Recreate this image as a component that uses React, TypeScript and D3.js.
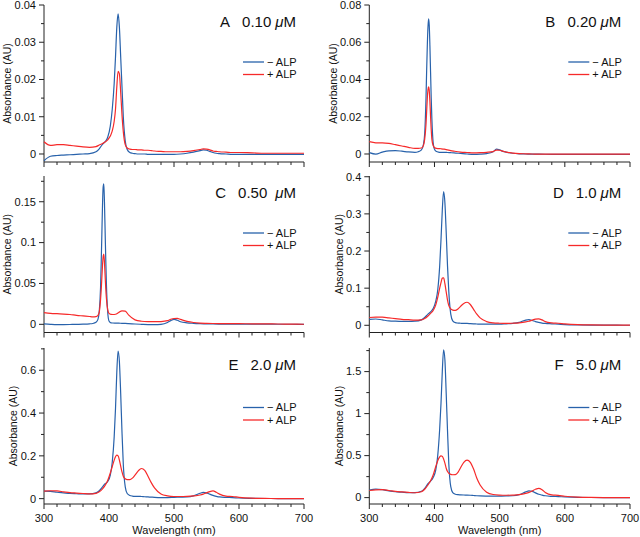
import React from 'react';
import * as d3 from 'd3';

// Wavelength grids (nm)
const wlSoret414 = [300,310,320,330,340,350,360,370,380,385,390,394,398,402,405,408,410,412,414,416,418,420,422,425,428,432,436,440,445,450,455,460,465,470,480,490,500,510,520,530,540,545,550,555,560,565,570,580,590,600,620,640,660,680,700];
const wlSoret391 = [300,310,320,330,340,350,360,370,375,380,383,385,387,388,389,390,391,392,393,394,395,396,398,400,403,406,410,415,420,425,430,440,450,460,470,480,490,495,500,505,510,520,530,540,550,560,580,600,620,640,660,680,700];

// Panel A (0.10 uM)
const minusA = [-0.0018,-0.0006,-0.0004,-0.0003,-0.0002,-0.0001,0,0.0001,0.0006,0.0014,0.0026,0.0033,0.0045,0.0075,0.012,0.019,0.026,0.034,0.0376,0.034,0.026,0.018,0.010,0.0035,0.0012,0.0004,0.0002,0.0001,0,0,0,-0.0001,-0.0001,-0.0001,-0.0001,-0.0001,-0.0001,0,0.0002,0.0005,0.0009,0.0011,0.001,0.0007,0.0004,0.0002,0.0001,0,-0.0001,-0.0001,-0.0001,-0.0001,-0.0001,-0.0001,-0.0001];
const plusA = [0.0033,0.0023,0.0025,0.0025,0.0023,0.0021,0.0019,0.0018,0.002,0.0024,0.0028,0.0032,0.0038,0.0048,0.0062,0.0088,0.012,0.018,0.0222,0.0215,0.0165,0.0105,0.006,0.0025,0.0016,0.0013,0.0012,0.0012,0.0011,0.0011,0.001,0.001,0.0009,0.0008,0.0007,0.0006,0.0006,0.0006,0.0007,0.0009,0.0012,0.0014,0.0013,0.0011,0.0008,0.0007,0.0006,0.0005,0.0004,0.0004,0.0003,0.0002,0.0002,0.0002,0.0002];

// Panel B (0.20 uM)
const minusB = [0.0007,-0.0001,0.001,0.0017,0.0018,0.0015,0.0011,0.0009,0.0012,0.0022,0.005,0.011,0.03,0.045,0.058,0.068,0.0725,0.069,0.058,0.044,0.03,0.019,0.006,0.0025,0.0013,0.001,0.0009,0.0009,0.0008,0.0007,0.0006,0.0003,0,-0.0002,-0.0001,0.0002,0.0012,0.0026,0.0022,0.0014,0.001,0.0004,0.0001,0,-0.0001,-0.0001,-0.0002,-0.0002,-0.0002,-0.0002,-0.0002,-0.0002,-0.0002];
const plusB = [0.0066,0.006,0.006,0.0057,0.005,0.0043,0.0036,0.003,0.003,0.0032,0.0045,0.008,0.016,0.023,0.03,0.0345,0.036,0.034,0.028,0.02,0.013,0.008,0.0045,0.0035,0.003,0.0029,0.0028,0.0026,0.0022,0.0018,0.0015,0.001,0.0008,0.0006,0.0007,0.0009,0.0013,0.0021,0.002,0.0015,0.001,0.0005,0.0002,0.0001,0,-0.0001,-0.0001,-0.0001,-0.0001,-0.0001,-0.0001,-0.0001,-0.0001];

// Panel C (0.50 uM)
const minusC = [0.0005,0,-0.0003,-0.0003,-0.0002,0,0.0002,0.0006,0.001,0.0025,0.006,0.016,0.045,0.075,0.11,0.145,0.168,0.172,0.15,0.115,0.08,0.05,0.015,0.004,0.0018,0.0016,0.0015,0.0014,0.0012,0.0011,0.0009,0.0004,0,-0.0003,-0.0003,0,0.0022,0.0045,0.006,0.005,0.0032,0.0018,0.0012,0.0008,0.0005,0.0004,0.0003,0.0003,0.0002,0.0002,0.0001,0.0001,0];
const plusC = [0.0143,0.0135,0.013,0.0126,0.012,0.011,0.0103,0.0096,0.0092,0.0095,0.011,0.015,0.03,0.042,0.057,0.072,0.083,0.086,0.076,0.06,0.044,0.032,0.018,0.0135,0.0122,0.012,0.0123,0.0145,0.0165,0.0162,0.0115,0.0055,0.0038,0.0033,0.0032,0.0034,0.0045,0.0062,0.0071,0.0072,0.006,0.0036,0.0022,0.0015,0.0012,0.001,0.0009,0.0008,0.0006,0.0005,0.0004,0.0002,0.0001];

// Panel D (1.0 uM)
const minusD = [0.016,0.017,0.0145,0.012,0.011,0.0105,0.0105,0.011,0.0145,0.021,0.03,0.036,0.045,0.065,0.095,0.16,0.23,0.31,0.36,0.33,0.25,0.16,0.09,0.03,0.012,0.007,0.006,0.0055,0.005,0.005,0.0045,0.004,0.0035,0.003,0.003,0.003,0.003,0.004,0.005,0.008,0.014,0.015,0.013,0.01,0.008,0.006,0.005,0.004,0.003,0.002,0.001,0.0005,0.0003,0.0002,0.0001];
const plusD = [0.021,0.022,0.022,0.02,0.018,0.016,0.015,0.014,0.0145,0.018,0.025,0.032,0.04,0.055,0.075,0.1,0.115,0.127,0.128,0.112,0.09,0.068,0.053,0.044,0.041,0.04,0.044,0.051,0.059,0.062,0.056,0.043,0.03,0.02,0.01,0.0065,0.0055,0.005,0.0055,0.0065,0.009,0.011,0.014,0.0165,0.0175,0.0145,0.01,0.0065,0.0055,0.004,0.002,0.001,0.0005,0.0003,0.0002];

// Panel E (2.0 uM)
const minusE = [0.035,0.034,0.03,0.027,0.024,0.023,0.022,0.022,0.027,0.037,0.055,0.07,0.08,0.11,0.17,0.29,0.42,0.59,0.69,0.64,0.49,0.31,0.16,0.055,0.024,0.015,0.012,0.011,0.011,0.01,0.009,0.008,0.007,0.006,0.005,0.005,0.006,0.007,0.008,0.013,0.025,0.029,0.027,0.021,0.015,0.011,0.008,0.006,0.005,0.003,0.0015,0.0008,0.0005,0.0003,0.0002];
const plusE = [0.035,0.037,0.036,0.032,0.028,0.026,0.024,0.022,0.025,0.032,0.046,0.062,0.085,0.12,0.15,0.18,0.196,0.203,0.2,0.18,0.152,0.125,0.105,0.093,0.089,0.089,0.096,0.11,0.13,0.141,0.132,0.105,0.075,0.05,0.022,0.013,0.01,0.01,0.011,0.013,0.017,0.021,0.027,0.033,0.036,0.03,0.021,0.012,0.01,0.006,0.002,0.001,0.0005,0.0003,0.0002];

// Panel F (5.0 uM)
const minusF = [0.09,0.1,0.094,0.08,0.07,0.065,0.06,0.06,0.075,0.11,0.165,0.195,0.24,0.33,0.5,0.82,1.12,1.5,1.76,1.64,1.24,0.8,0.4,0.13,0.06,0.04,0.035,0.033,0.031,0.03,0.028,0.025,0.022,0.02,0.018,0.017,0.018,0.02,0.022,0.035,0.068,0.08,0.074,0.056,0.04,0.03,0.022,0.015,0.012,0.008,0.003,0.0015,0.001,0.0005,0.0003];
const plusF = [0.085,0.092,0.094,0.085,0.075,0.068,0.062,0.058,0.07,0.1,0.15,0.2,0.27,0.37,0.44,0.485,0.498,0.49,0.46,0.41,0.35,0.31,0.29,0.276,0.272,0.274,0.3,0.355,0.42,0.446,0.42,0.34,0.23,0.15,0.065,0.037,0.03,0.028,0.03,0.035,0.05,0.062,0.08,0.1,0.111,0.095,0.062,0.032,0.027,0.016,0.005,0.002,0.001,0.0005,0.0003];

const panelLetters = ['A', 'B', 'C', 'D', 'E', 'F'];
const concentrations = ['0.10', '0.20', '0.50', '1.0', '2.0', '5.0'];
const legendLabels = ['\u2212 ALP', '+ ALP'];

const yTicksA = [0, 0.01, 0.02, 0.03, 0.04];
const yLabelsA = ['0', '0.01', '0.02', '0.03', '0.04'];
const yTicksB = [0, 0.02, 0.04, 0.06, 0.08];
const yLabelsB = ['0', '0.02', '0.04', '0.06', '0.08'];
const yTicksC = [0, 0.05, 0.1, 0.15];
const yLabelsC = ['0', '0.05', '0.1', '0.15'];
const yTicksD = [0, 0.1, 0.2, 0.3, 0.4];
const yLabelsD = ['0', '0.1', '0.2', '0.3', '0.4'];
const yTicksE = [0, 0.2, 0.4, 0.6];
const yLabelsE = ['0', '0.2', '0.4', '0.6'];
const yTicksF = [0, 0.5, 1, 1.5];
const yLabelsF = ['0', '0.5', '1', '1.5'];

const xTicks = [300, 400, 500, 600, 700];
const xLabels = ['300', '400', '500', '600', '700'];

const xDomain = [300, 700];
const yDomains = [
  [-0.00215, 0.04],
  [-0.0043, 0.08],
  [-0.0100, 0.1815],
  [-0.0194, 0.402],
  [-0.025, 0.704],
  [-0.076, 1.781],
];

const panels = [
  { wl: wlSoret414, minus: minusA, plus: plusA, yt: yTicksA, yl: yLabelsA, extraGap: false },
  { wl: wlSoret391, minus: minusB, plus: plusB, yt: yTicksB, yl: yLabelsB, extraGap: false },
  { wl: wlSoret391, minus: minusC, plus: plusC, yt: yTicksC, yl: yLabelsC, extraGap: true },
  { wl: wlSoret414, minus: minusD, plus: plusD, yt: yTicksD, yl: yLabelsD, extraGap: false },
  { wl: wlSoret414, minus: minusE, plus: plusE, yt: yTicksE, yl: yLabelsE, extraGap: false },
  { wl: wlSoret414, minus: minusF, plus: plusF, yt: yTicksF, yl: yLabelsF, extraGap: false },
];

// Layout
const W = 640;
const H = 537;
const cols = [{ x0: 44, x1: 304 }, { x0: 369.3, x1: 630 }];
const rows = [
  { top: 5, bottom: 162, leg: 57 },
  { top: 176, bottom: 332.5, leg: 57 },
  { top: 348, bottom: 504, leg: 59.5 },
];
const BLUE = '#2862ab';
const RED = '#f62a2a';
const AXIS = '#222';
const FONT = '"Liberation Sans", Arial, Helvetica, sans-serif';

function textWidth(s: string, size: number) {
  let w = 0;
  for (const ch of s) w += ch === '.' ? 0.278 : 0.556;
  return w * size;
}

function Panel({ idx }: { idx: number }) {
  const p = panels[idx];
  const col = cols[idx % 2];
  const row = rows[Math.floor(idx / 2)];
  const isBottom = Math.floor(idx / 2) === 2;
  const x = d3.scaleLinear().domain(xDomain).range([col.x0, col.x1]);
  const y = d3.scaleLinear().domain(yDomains[idx]).range([row.bottom, row.top]);
  const line = d3
    .line<number>()
    .x((_, i) => x(p.wl[i]))
    .y((v) => y(v))
    .curve(d3.curveMonotoneX);

  const step = p.yt[1] - p.yt[0];
  const yMinor = d3.range(step / 2, yDomains[idx][1] + 1e-9, step);
  const xMinor = d3.range(xDomain[0], xDomain[1] + 1e-9, 20).filter((v) => v % 100 !== 0);

  const maxLab = Math.max(...p.yl.map((s) => textWidth(s, 11)));
  const yLabelX = col.x0 - 8 - maxLab - 7;
  const yLabelY = (row.top + row.bottom) / 2;

  const titleX = col.x0 + 252;
  const titleY = row.top + 22;
  const legX0 = col.x0 + 199;
  const legX1 = col.x0 + 220;
  const legTX = col.x0 + 223;

  return (
    <g>
      <line x1={col.x0} x2={col.x0} y1={row.top} y2={row.bottom} stroke={AXIS} strokeWidth={1} />
      <line x1={col.x0} x2={col.x1} y1={row.bottom} y2={row.bottom} stroke={AXIS} strokeWidth={1} />
      {p.yt.map((t, i) => (
        <g key={'yt' + i}>
          <line x1={col.x0 - 5} x2={col.x0} y1={y(t)} y2={y(t)} stroke={AXIS} strokeWidth={1} />
          <text x={col.x0 - 8} y={y(t)} dy="0.35em" textAnchor="end" fontSize={11} fill="#111">
            {p.yl[i]}
          </text>
        </g>
      ))}
      {yMinor.map((t, i) => (
        <line key={'ym' + i} x1={col.x0 - 3} x2={col.x0} y1={y(t)} y2={y(t)} stroke={AXIS} strokeWidth={1} />
      ))}
      {xTicks.map((t, i) => (
        <g key={'xt' + i}>
          <line x1={x(t)} x2={x(t)} y1={row.bottom} y2={row.bottom + 5} stroke={AXIS} strokeWidth={1} />
          {isBottom && (
            <text x={x(t)} y={row.bottom + 17.5} textAnchor="middle" fontSize={11} fill="#111">
              {xLabels[i]}
            </text>
          )}
        </g>
      ))}
      {xMinor.map((t, i) => (
        <line key={'xm' + i} x1={x(t)} x2={x(t)} y1={row.bottom} y2={row.bottom + 3} stroke={AXIS} strokeWidth={1} />
      ))}
      {isBottom && (
        <text x={(col.x0 + col.x1) / 2} y={row.bottom + 29.5} textAnchor="middle" fontSize={11} fill="#111">
          Wavelength (nm)
        </text>
      )}
      <text
        transform={`translate(${yLabelX},${yLabelY}) rotate(-90)`}
        textAnchor="middle"
        dy="0.35em"
        fontSize={10.5}
        fill="#111"
      >
        Absorbance (AU)
      </text>

      <path d={line(p.minus) || ''} fill="none" stroke={BLUE} strokeWidth={1.2} strokeLinejoin="round" />
      <path d={line(p.plus) || ''} fill="none" stroke={RED} strokeWidth={1.2} strokeLinejoin="round" />

      <text x={titleX} y={titleY} textAnchor="end" fontSize={15} fill="#111">
        <tspan>{panelLetters[idx]}</tspan>
        <tspan dx={12}>{concentrations[idx]}</tspan>
        <tspan dx={p.extraGap ? 8 : 4} fontStyle="italic">μ</tspan>
        <tspan>M</tspan>
      </text>

      {[BLUE, RED].map((c, i) => {
        const ly = row.top + row.leg + i * 12.5;
        return (
          <g key={'lg' + i}>
            <line x1={legX0} x2={legX1} y1={ly} y2={ly} stroke={c} strokeWidth={1.3} />
            <text x={legTX} y={ly} dy="0.35em" fontSize={11} fill="#111">
              {legendLabels[i]}
            </text>
          </g>
        );
      })}
    </g>
  );
}

export default function App() {
  return (
    <svg
      width={W}
      height={H}
      viewBox={`0 0 ${W} ${H}`}
      style={{ position: 'absolute', left: 0, top: 0, background: '#fff', fontFamily: FONT }}
      fontFamily={FONT}
    >
      <rect width={W} height={H} fill="#fff" />
      {panels.map((_, i) => (
        <Panel key={i} idx={i} />
      ))}
    </svg>
  );
}
